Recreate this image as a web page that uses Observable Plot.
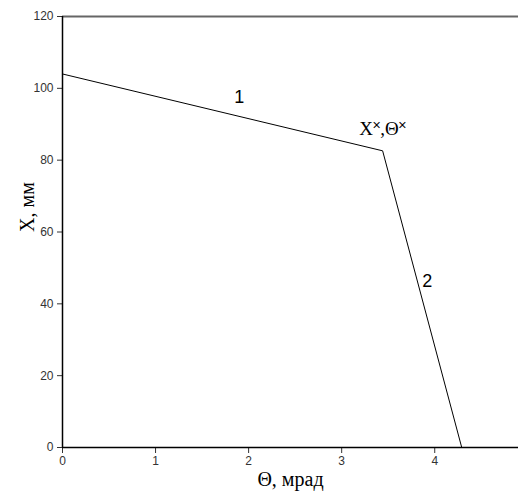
<!DOCTYPE html>
<html>
<head>
<meta charset="utf-8">
<script src="https://cdn.jsdelivr.net/npm/d3@7"></script>
<script src="https://cdn.jsdelivr.net/npm/@observablehq/plot@0.6"></script>
<style>
  html, body { margin: 0; padding: 0; background: #fff; }
  #chart svg { display: block; }
</style>
</head>
<body>
<div id="chart"></div>
<script>
// Broken line X(Θ): segment 1 down to the break point (Θ*, X*), then segment 2 to zero
const theta = [0, 3.44, 4.29];        // Θ, мрад
const xDepth = [104, 82.6, 0];        // X, мм

const xTicks = [0, 1, 2, 3, 4];
const yTicks = [0, 20, 40, 60, 80, 100, 120];

const segLabels = ["1", "2"];
const segLabelTheta = [1.90, 3.92];
const segLabelX = [97.4, 46.2];

const breakLabel = "X˟,Θ˟";
const breakLabelTheta = [3.44];
const breakLabelX = [88.6];

const xLabel = "Θ, мрад";
const yLabel = "X, мм";

const line = theta.map((t, i) => ({t, x: xDepth[i]}));
const segs = segLabels.map((s, i) => ({s, t: segLabelTheta[i], x: segLabelX[i]}));
const brk = [{s: breakLabel, t: breakLabelTheta[0], x: breakLabelX[0]}];

const chart = Plot.plot({
  width: 518,
  height: 496,
  marginLeft: 62,
  marginRight: 0,
  marginTop: 16,
  marginBottom: 49,
  style: {fontFamily: "Liberation Sans, Arial, sans-serif", background: "#fff"},
  x: {domain: [0, 4.9]},
  y: {domain: [0, 120]},
  marks: [
    Plot.ruleY([120], {stroke: "#666", strokeWidth: 2}),
    Plot.axisX({ticks: xTicks, tickFormat: "d", tickSize: 6, tickPadding: 3, fontSize: 12, label: null, color: "#333"}),
    Plot.axisY({ticks: yTicks, tickFormat: "d", tickSize: 5, tickPadding: 4, fontSize: 12, label: null, color: "#333"}),
    Plot.ruleX([0], {stroke: "#000", strokeWidth: 1.5}),
    Plot.ruleY([0], {stroke: "#000", strokeWidth: 1.5}),
    Plot.line(line, {x: "t", y: "x", stroke: "#000", strokeWidth: 1}),
    Plot.text(segs, {x: "t", y: "x", text: "s", fontSize: 18, fill: "#000"}),
    Plot.text(brk, {x: "t", y: "x", text: "s", fontSize: 19, fill: "#000",
      fontFamily: "Liberation Serif, Times New Roman, serif"}),
    Plot.text([xLabel], {frameAnchor: "bottom", textAnchor: "middle", dy: 38, fontSize: 20, fill: "#000",
      fontFamily: "Liberation Serif, Times New Roman, serif"}),
    Plot.text([yLabel], {frameAnchor: "left", textAnchor: "middle", rotate: -90, dx: -35, dy: -25, fontSize: 20, fill: "#000",
      fontFamily: "Liberation Serif, Times New Roman, serif"})
  ]
});
document.getElementById("chart").append(chart);
</script>
</body>
</html>
